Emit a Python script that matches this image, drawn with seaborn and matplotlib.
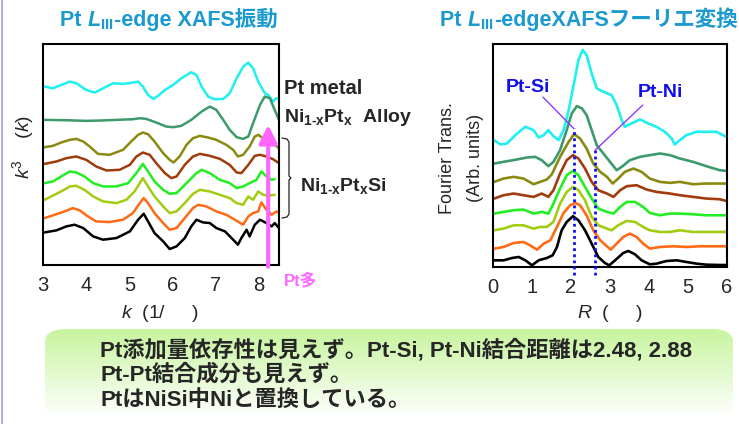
import numpy as np
import pandas as pd
import matplotlib
matplotlib.use("Agg")
import matplotlib.pyplot as plt
from matplotlib.lines import Line2D
from matplotlib.patches import FancyBboxPatch
import seaborn as sns

sns.set_theme(style="white")
plt.rcParams["font.family"] = ["Liberation Sans", "Noto Sans CJK JP", "DejaVu Sans"]
plt.rcParams["mathtext.fontset"] = "custom"
plt.rcParams["mathtext.rm"] = "Liberation Sans"
plt.rcParams["mathtext.it"] = "Liberation Sans:italic"
plt.rcParams["mathtext.bf"] = "Liberation Sans:bold"
plt.rcParams["mathtext.bfit"] = "Liberation Sans:italic:bold"

# ---------------- data ----------------
samples = ["Pt metal", "Ni1-xPtx Alloy", "NiPtSi a", "NiPtSi b", "NiPtSi c", "NiPtSi d", "NiPtSi e", "NiPtSi f"]
colors = ["#1ef0f0", "#3c9a6c", "#8a8a12", "#a03c0c", "#22ee22", "#a2cc12", "#ff6a14", "#000000"]

# EXAFS oscillation k^3 chi(k), stacked with vertical offsets
k_pt = [3.04, 3.23, 3.42, 3.62, 3.77, 4.00, 4.20, 4.39, 4.62, 4.85, 5.08, 5.20, 5.31, 5.43, 5.55, 5.66, 5.82, 6.01,
        6.20, 6.43, 6.55, 6.67, 6.82, 6.97, 7.17, 7.32, 7.48, 7.63, 7.75, 7.86, 7.98, 8.13, 8.21, 8.32, 8.40, 8.46]
chi_pt = [53.6, 53.1, 54.1, 55.1, 54.6, 52.6, 51.8, 53.1, 54.6, 54.4, 54.8, 55.1, 53.6, 51.1, 49.9, 50.8, 52.6, 54.1,
          56.1, 57.9, 57.1, 53.6, 50.6, 49.8, 49.9, 51.6, 56.1, 59.6, 60.8, 59.1, 55.1, 51.6, 51.1, 49.1, 50.1, 49.8]

k_alloy = [3.04, 3.54, 4.00, 4.31, 4.70, 5.08, 5.24, 5.39, 5.62, 5.85, 6.01, 6.20, 6.43, 6.67, 6.86, 7.01, 7.17, 7.32,
           7.48, 7.63, 7.75, 7.86, 8.02, 8.13, 8.25, 8.36, 8.46]
chi_alloy = [43.6, 43.5, 43.3, 43.4, 43.6, 43.8, 44.1, 43.9, 42.8, 41.6, 41.4, 41.8, 43.6, 46.1, 47.6, 46.6, 43.6, 40.6,
             38.4, 37.9, 38.6, 42.6, 48.1, 50.6, 50.1, 46.6, 43.6]

k_s1 = [3.04, 3.23, 3.42, 3.62, 3.77, 3.93, 4.08, 4.27, 4.54, 4.85, 5.04, 5.20, 5.31, 5.43, 5.58, 5.78, 5.93, 6.02,
        6.16, 6.32, 6.47, 6.63, 6.82, 7.01, 7.24, 7.40, 7.51, 7.63, 7.78, 7.90, 7.98, 8.09, 8.25, 8.36, 8.46]
chi_s1 = [35.4, 35.8, 36.8, 37.6, 37.9, 37.1, 35.6, 33.4, 33.1, 34.6, 37.1, 39.1, 39.8, 39.3, 37.1, 33.6, 31.6, 30.8,
          32.6, 36.1, 38.1, 38.8, 38.3, 37.6, 36.1, 34.6, 32.6, 33.1, 35.6, 38.6, 39.1, 38.1, 37.6, 36.1, 35.1]

k_s2 = [3.04, 3.31, 3.54, 3.77, 4.00, 4.23, 4.47, 4.77, 5.01, 5.16, 5.31, 5.47, 5.62, 5.82, 5.97, 6.09, 6.28, 6.47,
        6.63, 6.86, 7.09, 7.32, 7.48, 7.59, 7.75, 7.90, 8.02, 8.17, 8.32, 8.46]
chi_s2 = [30.4, 31.1, 32.1, 32.6, 31.6, 29.6, 28.4, 28.6, 30.1, 32.6, 33.8, 33.1, 30.6, 27.6, 26.1, 26.6, 30.1, 32.6,
          33.4, 32.8, 31.9, 30.1, 27.8, 27.6, 30.1, 32.8, 33.1, 32.6, 31.8, 30.6]

k_s3 = [3.04, 3.23, 3.42, 3.62, 3.77, 3.96, 4.16, 4.39, 4.70, 4.97, 5.16, 5.31, 5.43, 5.58, 5.78, 5.93, 6.09, 6.32,
        6.55, 6.67, 6.86, 7.09, 7.32, 7.48, 7.63, 7.78, 7.94, 8.05, 8.17, 8.29, 8.36]
chi_s3 = [24.6, 25.1, 26.6, 28.1, 27.8, 26.6, 24.6, 23.6, 23.6, 24.6, 27.6, 30.4, 28.1, 25.1, 22.6, 21.4, 21.6, 24.6,
          27.6, 28.6, 27.6, 25.6, 24.6, 23.1, 23.6, 24.6, 25.6, 28.1, 26.6, 25.6, 25.8]

k_s4 = [3.04, 3.19, 3.42, 3.62, 3.77, 3.96, 4.16, 4.39, 4.70, 4.93, 5.12, 5.31, 5.43, 5.58, 5.78, 5.93, 6.09, 6.28,
        6.47, 6.63, 6.86, 7.09, 7.32, 7.48, 7.63, 7.75, 7.86, 7.98, 8.09, 8.21, 8.36]
chi_s4 = [19.6, 20.6, 22.1, 23.6, 23.8, 22.6, 20.6, 19.1, 18.6, 19.6, 22.1, 26.1, 23.6, 20.6, 17.6, 15.6, 16.1, 18.6,
          21.4, 22.6, 22.1, 21.1, 20.1, 18.6, 18.1, 20.6, 19.6, 22.1, 21.1, 20.8, 21.1]

k_s5 = [3.04, 3.27, 3.50, 3.69, 3.85, 4.04, 4.23, 4.54, 4.85, 5.08, 5.24, 5.33, 5.43, 5.58, 5.78, 5.93, 6.09, 6.28,
        6.47, 6.59, 6.78, 7.01, 7.24, 7.44, 7.63, 7.75, 7.86, 7.98, 8.05, 8.17, 8.29, 8.40, 8.46]
chi_s5 = [14.1, 15.1, 16.1, 17.1, 16.4, 14.6, 13.1, 12.9, 13.6, 15.6, 18.6, 20.1, 18.6, 15.6, 12.6, 10.6, 11.1, 14.1,
          17.1, 18.1, 17.6, 16.1, 15.1, 13.6, 12.1, 14.6, 15.6, 16.1, 18.8, 16.6, 15.1, 16.1, 15.6]

k_s6 = [3.04, 3.31, 3.54, 3.73, 3.93, 4.16, 4.39, 4.70, 5.01, 5.20, 5.33, 5.43, 5.58, 5.78, 5.93, 6.09, 6.28, 6.43,
        6.55, 6.70, 6.86, 7.01, 7.21, 7.40, 7.51, 7.59, 7.71, 7.78, 7.90, 8.02, 8.17, 8.29, 8.36, 8.46]
chi_s6 = [9.8, 10.4, 11.6, 12.1, 11.1, 8.6, 7.6, 8.1, 10.1, 13.6, 15.4, 13.1, 9.6, 7.1, 4.8, 5.6, 8.1, 11.6,
          13.6, 12.8, 12.6, 11.1, 10.1, 7.6, 6.1, 8.1, 10.6, 8.6, 12.1, 13.6, 12.6, 11.6, 12.6, 11.1]

# Fourier transform magnitudes |FT| vs R, stacked with offsets
r_pt = [0.03, 0.19, 0.36, 0.57, 0.83, 1.04, 1.17, 1.30, 1.42, 1.55, 1.68, 1.81, 1.94, 2.06, 2.19, 2.30, 2.40, 2.53,
        2.66, 2.83, 3.04, 3.17, 3.30, 3.38, 3.55, 3.77, 3.98, 4.19, 4.41, 4.58, 4.66, 4.79, 4.96, 5.22, 5.47, 5.73, 5.98]
ft_pt = [38.0, 36.7, 37.0, 39.5, 42.0, 41.0, 38.8, 39.5, 41.0, 39.2, 38.0, 41.0, 47.0, 54.0, 62.0, 65.0, 63.5, 58.0,
         53.5, 52.5, 51.5, 48.5, 44.0, 42.0, 43.0, 44.2, 43.0, 42.0, 40.5, 38.5, 36.7, 38.0, 39.5, 40.5, 40.5, 40.5, 39.0]

r_alloy = [0.03, 0.27, 0.61, 0.87, 1.08, 1.25, 1.42, 1.55, 1.72, 1.89, 2.02, 2.15, 2.28, 2.40, 2.53, 2.66, 2.83, 3.00,
           3.17, 3.30, 3.51, 3.77, 4.02, 4.28, 4.54, 4.79, 5.13, 5.47, 5.81, 5.98]
ft_alloy = [31.0, 31.5, 32.2, 32.8, 33.0, 32.0, 30.2, 31.5, 35.0, 41.0, 46.0, 48.2, 47.5, 45.5, 41.0, 36.5, 34.0, 31.5,
            29.0, 30.0, 32.0, 33.0, 33.5, 34.0, 33.5, 32.5, 31.5, 30.2, 29.0, 28.8]

r_s1 = [0.03, 0.27, 0.53, 0.78, 1.04, 1.21, 1.38, 1.51, 1.72, 1.94, 2.08, 2.23, 2.40, 2.57, 2.75, 2.92, 3.07, 3.21,
        3.38, 3.60, 3.81, 4.02, 4.28, 4.54, 4.79, 5.13, 5.47, 5.81, 5.98]
ft_s1 = [25.5, 26.5, 27.0, 26.5, 24.8, 25.5, 26.2, 27.8, 33.0, 37.5, 39.8, 38.5, 35.5, 31.0, 28.5, 27.0, 25.0, 26.5,
         28.5, 29.5, 28.5, 26.5, 25.5, 25.2, 25.5, 24.8, 25.0, 25.0, 25.0]

r_s2 = [0.03, 0.27, 0.53, 0.78, 1.04, 1.25, 1.42, 1.55, 1.72, 1.89, 2.05, 2.19, 2.36, 2.53, 2.70, 2.92, 3.09, 3.26,
        3.43, 3.68, 3.94, 4.19, 4.54, 4.79, 5.13, 5.47, 5.81, 5.98]
ft_s2 = [20.5, 21.5, 22.0, 21.5, 21.0, 22.0, 21.0, 23.0, 28.0, 32.0, 33.5, 32.5, 29.5, 25.5, 23.0, 22.0, 21.0, 23.0,
         24.2, 24.5, 23.2, 22.5, 22.0, 21.5, 21.0, 20.5, 20.3, 19.8]

r_s3 = [0.03, 0.27, 0.53, 0.78, 1.04, 1.25, 1.42, 1.55, 1.72, 1.89, 2.05, 2.19, 2.36, 2.53, 2.70, 2.92, 3.09, 3.26,
        3.43, 3.64, 3.85, 4.02, 4.28, 4.54, 4.79, 5.13, 5.47, 5.81, 5.98]
ft_s3 = [16.0, 16.5, 17.0, 17.2, 16.0, 16.5, 16.0, 19.0, 23.5, 27.5, 28.8, 27.5, 24.0, 20.5, 17.5, 16.5, 16.0, 18.0,
         19.5, 19.5, 18.0, 16.2, 15.5, 16.0, 16.0, 15.8, 15.5, 15.5, 15.5]

r_s4 = [0.03, 0.27, 0.53, 0.78, 1.04, 1.21, 1.38, 1.55, 1.72, 1.89, 2.05, 2.19, 2.36, 2.53, 2.70, 2.92, 3.04, 3.21,
        3.43, 3.64, 3.85, 4.02, 4.28, 4.54, 4.79, 5.13, 5.47, 5.98]
ft_s4 = [11.0, 11.5, 12.5, 12.5, 11.5, 12.0, 12.0, 13.5, 19.0, 22.5, 24.0, 23.0, 20.0, 15.0, 12.5, 11.5, 11.0, 12.5,
         13.8, 13.5, 12.0, 11.0, 10.5, 10.5, 11.0, 10.5, 10.5, 10.5]

r_s5 = [0.03, 0.27, 0.53, 0.78, 0.95, 1.13, 1.30, 1.47, 1.64, 1.81, 1.98, 2.11, 2.23, 2.40, 2.57, 2.75, 2.92, 3.02,
        3.17, 3.34, 3.51, 3.68, 3.85, 4.02, 4.28, 4.62, 4.96, 5.30, 5.64, 5.98]
ft_s5 = [5.5, 6.0, 7.2, 7.5, 6.5, 5.2, 7.0, 8.0, 12.0, 16.2, 18.5, 19.2, 18.5, 15.5, 11.0, 8.0, 6.2, 5.2,
         7.0, 9.0, 10.0, 9.0, 7.0, 5.5, 6.0, 6.2, 6.0, 6.2, 6.2, 6.2]

r_s6 = [0.03, 0.27, 0.49, 0.66, 0.83, 1.00, 1.17, 1.38, 1.53, 1.64, 1.76, 1.89, 2.05, 2.19, 2.36, 2.53, 2.70, 2.87,
        2.98, 3.13, 3.34, 3.47, 3.64, 3.81, 4.02, 4.19, 4.45, 4.71, 4.96, 5.22, 5.47, 5.81, 5.98]
ft_s6 = [2.0, 2.0, 2.7, 3.0, 2.0, 0.5, 2.0, 2.7, 3.5, 6.0, 11.0, 13.5, 15.2, 14.0, 11.0, 7.0, 3.0, 1.2,
         0.5, 2.0, 4.2, 4.8, 3.8, 2.0, 0.8, 1.0, 1.8, 2.0, 1.5, 1.0, 0.7, 0.6, 0.6]

# bond distances marked in the FT panel
r_ptsi, r_ptni = 2.07, 2.62

k_series = [(k_pt, chi_pt), (k_alloy, chi_alloy), (k_s1, chi_s1), (k_s2, chi_s2),
            (k_s3, chi_s3), (k_s4, chi_s4), (k_s5, chi_s5), (k_s6, chi_s6)]
r_series = [(r_pt, ft_pt), (r_alloy, ft_alloy), (r_s1, ft_s1), (r_s2, ft_s2),
            (r_s3, ft_s3), (r_s4, ft_s4), (r_s5, ft_s5), (r_s6, ft_s6)]

df_k = pd.concat([pd.DataFrame({"k": x, "val": y, "sample": s}) for (x, y), s in zip(k_series, samples)])
df_r = pd.concat([pd.DataFrame({"R": x, "val": y, "sample": s}) for (x, y), s in zip(r_series, samples)])
palette = dict(zip(samples, colors))

# ---------------- figure ----------------
W, H = 739, 424
fig = plt.figure(figsize=(W / 100, H / 100), dpi=100)
renderer = fig.canvas.get_renderer()


def fx(px):
    return px / W


def fy(py):
    return 1 - py / H


def text_run(x_px, y_px, parts, **kw):
    """Draw consecutive text pieces on one baseline, starting at x_px."""
    x = x_px
    for s, extra in parts:
        opts = dict(kw)
        opts.update(extra)
        t = fig.text(fx(x), fy(y_px), s, ha="left", va="baseline", **opts)
        x += t.get_window_extent(renderer).width
    return x


axL = fig.add_axes([fx(43), fy(265), fx(279) - fx(43), fy(44) - fy(265)])
axR = fig.add_axes([fx(493), fy(267), fx(727) - fx(493), fy(44) - fy(267)])

sns.lineplot(data=df_k, x="k", y="val", hue="sample", palette=palette, ax=axL,
             legend=False, sort=False, estimator=None, linewidth=1.8)
sns.lineplot(data=df_r, x="R", y="val", hue="sample", palette=palette, ax=axR,
             legend=False, sort=False, estimator=None, linewidth=1.9)

tick_font = dict(fontsize=14.5, family="Liberation Sans")

axL.set_xlim(3, 8.46)
axL.set_ylim(0, 66.4)
axL.set_xticks([3, 4, 5, 6, 7, 8])
axL.set_xticklabels(["3", "4", "5", "6", "7", "8"], **tick_font)
axL.set_yticks([10.0, 20.2, 30.4, 40.6, 50.8, 61.0])
axL.set_yticklabels([])

axR.set_xlim(0, 6)
axR.set_ylim(0, 66.8)
axR.set_xticks([0, 1, 2, 3, 4, 5, 6])
axR.set_xticklabels([str(i) for i in range(7)], **tick_font)
axR.set_yticks([12.5, 24.5, 36.5, 48.8, 61.0])
axR.set_yticklabels([])

for ax in (axL, axR):
    ax.set_xlabel("")
    ax.set_ylabel("")
    ax.tick_params(axis="both", direction="in", length=5, width=1.5, color="black", pad=6)
    ax.tick_params(axis="x", pad=8)
    for sp in ax.spines.values():
        sp.set_color("black")
        sp.set_linewidth(1.5)
    ax.set_facecolor("white")

# axis labels (unit glyphs are blank in the original slide font)
fig.text(fx(160), fy(313), r"$k$  (1/     )", fontsize=14, ha="center", va="center")
fig.text(fx(610), fy(313), r"$R$  (     )", fontsize=14, ha="center", va="center")
fig.text(fx(23), fy(147), r"$k^3$    ($k$)", fontsize=14, ha="center", va="center", rotation=90)
fig.text(fx(447), fy(158), "Fourier Trans.", fontsize=13, ha="center", va="center", rotation=90)
fig.text(fx(476), fy(158), "(Arb. units)", fontsize=13, ha="center", va="center", rotation=90)

# titles
title_c = "#1b9ad0"
title_kw = dict(fontsize=15.5, fontweight="bold", color=title_c)
text_run(60, 26, [("Pt ", {}), (r"$\mathbfit{L}_{\mathbf{III}}$", {}),
                  ("-edge XAFS振動", {"family": ["Liberation Sans", "Noto Sans CJK JP"]})], **title_kw)
text_run(440, 26, [("Pt ", {}), (r"$\mathbfit{L}_{\mathbf{III}}$", {}),
                   ("-edgeXAFSフーリエ変換", {"family": ["Liberation Sans", "Noto Sans CJK JP"]})], **title_kw)

# sample labels beside the EXAFS panel
fig.text(fx(284), fy(89), "Pt metal", fontsize=14.5, fontweight="bold", ha="left", va="center")
fig.text(fx(284), fy(118), r"Ni$_{\mathbf{1‐x}}$Pt$_{\mathbf{x}}$  Alloy", fontsize=14,
         fontweight="bold", ha="left", va="center")
fig.text(fx(300), fy(186), r"Ni$_{\mathbf{1‐x}}$Pt$_{\mathbf{x}}$Si", fontsize=14,
         fontweight="bold", ha="left", va="center")
bx = [282, 287, 289, 289, 291, 289, 289, 287, 282]
by = [138, 139, 142, 176, 178, 180, 214, 217, 218]
fig.add_artist(Line2D([fx(v) for v in bx], [fy(v) for v in by], color="#222222", lw=0.9))

# Pt content arrow
axL.annotate("", xy=(8.21, 42.1), xytext=(8.21, -0.5), xycoords="data",
             arrowprops=dict(arrowstyle="-|>,head_width=0.45,head_length=0.9",
                             color="#ff66ff", lw=3, shrinkA=0, shrinkB=0),
             annotation_clip=False)
fig.text(fx(284), fy(280), "Pt多", fontsize=12, fontweight="bold", color="#ff66ff",
         ha="left", va="center", family=["Liberation Sans", "Noto Sans CJK JP"])

# bond distance markers
for r0, ytop in ((r_ptsi, 41.5), (r_ptni, 35.0)):
    axR.plot([r0, r0], [-2.5, ytop], color="#1010ee", lw=2, ls=(0, (1, 1.2)), clip_on=False, zorder=5)
axR.plot([1.28, r_ptsi], [50.9, 41.5], color="#8a3cff", lw=1, zorder=6)
axR.plot([3.84, r_ptni], [48.5, 35.0], color="#8a3cff", lw=1, zorder=6)
axR.text(0.9, 51.2, "Pt-Si", fontsize=14, fontweight="bold", color="#1010ee", ha="center", va="bottom", zorder=7)
axR.text(4.3, 49.8, "Pt-Ni", fontsize=14, fontweight="bold", color="#1010ee", ha="center", va="bottom", zorder=7)

# summary box with green gradient
box = FancyBboxPatch((fx(45), fy(418)), fx(733) - fx(45), fy(329) - fy(418),
                     boxstyle="round,pad=0,rounding_size=0.03", transform=fig.transFigure,
                     facecolor="none", edgecolor="none")
fig.add_artist(box)
grad = np.linspace(0, 1, 256)[:, None]
top = np.array([0.78, 0.96, 0.62])
bot = np.array([1.0, 1.0, 1.0])
img = top[None, None, :] * (1 - grad[..., None]) + bot[None, None, :] * grad[..., None]
img = np.repeat(img, 2, axis=1)
axbg = fig.add_axes([0, 0, 1, 1], zorder=-1)
axbg.set_axis_off()
axbg.set_xlim(0, 1)
axbg.set_ylim(0, 1)
im = axbg.imshow(img, extent=[fx(45), fx(733), fy(418), fy(329)], aspect="auto", zorder=0)
im.set_clip_path(box)

txt_font = ["Liberation Sans", "Noto Sans CJK JP"]
lines = ["Pt添加量依存性は見えず。Pt-Si, Pt-Ni結合距離は2.48, 2.88",
         "Pt-Pt結合成分も見えず。",
         "PtはNiSi中Niと置換している。"]
for i, s in enumerate(lines):
    fig.text(fx(100), fy(350 + 25 * i), s, fontsize=16, fontweight="bold", ha="left",
             va="center", family=txt_font)

# slide border at the left edge
fig.add_artist(Line2D([fx(2), fx(2)], [0, 1], color="#a0a4dc", lw=1.2))

fig.savefig("out.png", dpi=100)
